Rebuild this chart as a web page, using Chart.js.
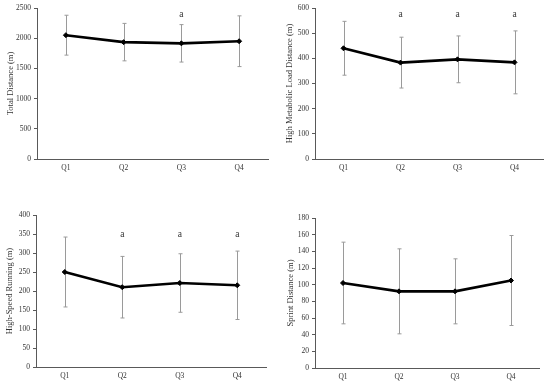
<!DOCTYPE html>
<html><head><meta charset="utf-8">
<script src="https://cdn.jsdelivr.net/npm/chart.js@4"></script>
<style>
html,body{margin:0;padding:0;background:#fff;}
body{width:550px;height:388px;position:relative;overflow:hidden;}
.q{position:absolute;width:275px;height:194px;}
</style></head><body>
<div class="q" style="left:0;top:0"><canvas id="c1"></canvas></div>
<div class="q" style="left:275px;top:0"><canvas id="c2"></canvas></div>
<div class="q" style="left:0;top:194px"><canvas id="c3"></canvas></div>
<div class="q" style="left:275px;top:194px"><canvas id="c4"></canvas></div>
<script>
const quarters = ['Q1', 'Q2', 'Q3', 'Q4'];

const totalMean = [2050, 1935, 1915, 1950];
const totalSD   = [330, 310, 310, 420];
const totalSig  = ['', '', 'a', ''];

const hmlMean = [440, 383, 396, 384];
const hmlSD   = [107, 101, 93, 125];
const hmlSig  = ['', 'a', 'a', 'a'];

const hsrMean = [250, 210, 221, 215];
const hsrSD   = [92, 81, 77, 90];
const hsrSig  = ['', 'a', 'a', 'a'];

const sprintMean = [102, 92, 92, 105];
const sprintSD   = [49, 51, 39, 54];
const sprintSig  = ['', '', '', ''];

const FONT = "'Liberation Serif', 'Times New Roman', serif";
const AXIS = '#595959';

const errorBarPlugin = {
  id: 'errorBars',
  beforeDatasetsDraw(chart) {
    const sd = chart.options.plugins.errorBars.sd;
    const ds = chart.data.datasets[0].data;
    const xs = chart.scales.x, ys = chart.scales.y;
    const ctx = chart.ctx;
    ctx.save();
    ctx.strokeStyle = '#9a9a9a';
    ctx.lineWidth = 1;
    ds.forEach((v, i) => {
      const x = Math.round(xs.getPixelForValue(i)) + 0.5;
      const yT = ys.getPixelForValue(v + sd[i]);
      const yB = ys.getPixelForValue(v - sd[i]);
      ctx.beginPath();
      ctx.moveTo(x, yT); ctx.lineTo(x, yB);
      ctx.moveTo(x - 2, yT); ctx.lineTo(x + 2, yT);
      ctx.moveTo(x - 2, yB); ctx.lineTo(x + 2, yB);
      ctx.stroke();
    });
    ctx.restore();
  }
};

const sigPlugin = {
  id: 'sigLabels',
  afterDraw(chart) {
    const o = chart.options.plugins.sigLabels;
    const xs = chart.scales.x, ys = chart.scales.y;
    const ctx = chart.ctx;
    ctx.save();
    ctx.fillStyle = '#333';
    ctx.font = "9.5px " + FONT;
    ctx.textAlign = 'center';
    ctx.textBaseline = 'middle';
    o.labels.forEach((t, i) => {
      if (t) ctx.fillText(t, xs.getPixelForValue(i), ys.getPixelForValue(o.y));
    });
    ctx.restore();
  }
};

function makeChart(id, mean, sd, sig, sigY, max, step, title, L) {
  new Chart(document.getElementById(id), {
    type: 'line',
    data: {
      labels: quarters,
      datasets: [{
        data: mean,
        borderColor: '#000',
        backgroundColor: '#000',
        borderWidth: 2.6,
        pointStyle: 'rectRot',
        pointRadius: 2.5,
        pointBorderWidth: 1,
        tension: 0
      }]
    },
    options: {
      responsive: true,
      maintainAspectRatio: false,
      animation: false,
      layout: { padding: { left: 0, top: L.top, right: 275 - L.right, bottom: 0 } },
      plugins: {
        legend: { display: false },
        tooltip: { enabled: false },
        errorBars: { sd: sd },
        sigLabels: { labels: sig, y: sigY }
      },
      scales: {
        x: {
          offset: true,
          grid: { display: false, drawTicks: false },
          border: { display: true, color: AXIS, width: 1 },
          ticks: { color: '#333', font: { family: FONT, size: 7.5 }, padding: 5, maxRotation: 0 },
          afterFit(s) { s.height = 194 - L.bottom; }
        },
        y: {
          min: 0, max: max,
          grid: { display: true, drawOnChartArea: false, drawTicks: true, tickLength: 3, color: AXIS },
          border: { display: true, color: AXIS, width: 1 },
          ticks: { stepSize: step, color: '#333', font: { family: FONT, size: 7.5 }, padding: 3,
                   callback: (v) => String(v) },
          title: { display: true, text: title, color: '#333', font: { family: FONT, size: 8.5 }, padding: { top: L.tp, bottom: 0 } },
          afterFit(s) { s.width = L.axis; }
        }
      }
    },
    plugins: [errorBarPlugin, sigPlugin]
  });
}

makeChart('c1', totalMean, totalSD, totalSig, 2400, 2500, 500, 'Total Distance (m)',
  { axis: 37, top: 8, bottom: 159, right: 268, tp: 6 });
makeChart('c2', hmlMean, hmlSD, hmlSig, 575, 600, 100, 'High Metabolic Load Distance (m)',
  { axis: 40, top: 8, bottom: 159, right: 268, tp: 10 });
makeChart('c3', hsrMean, hsrSD, hsrSig, 349, 400, 50, 'High-Speed Running (m)',
  { axis: 36, top: 21, bottom: 173, right: 266, tp: 5 });
makeChart('c4', sprintMean, sprintSD, sprintSig, 175, 180, 20, 'Sprint Distance (m)',
  { axis: 40, top: 24, bottom: 174, right: 264, tp: 11 });
</script>
</body></html>
